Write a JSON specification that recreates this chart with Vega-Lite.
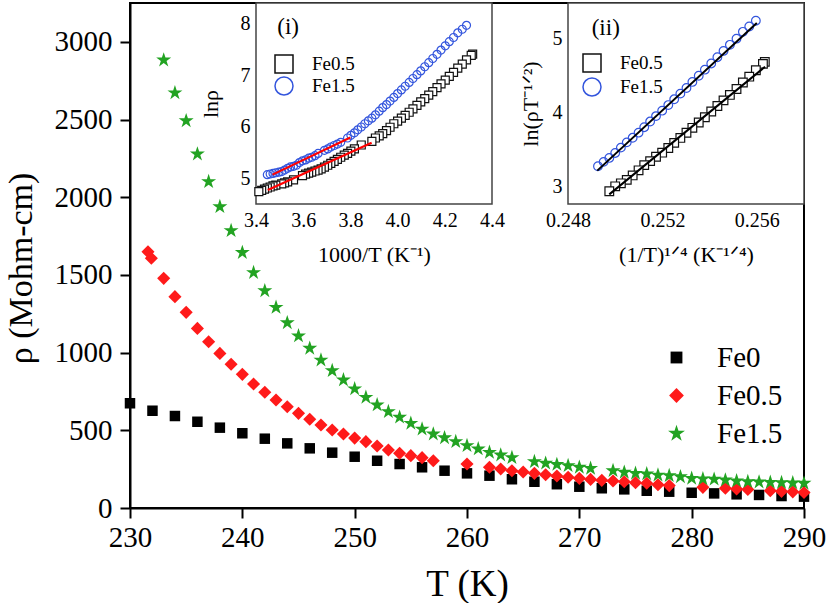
{
  "$schema": "https://vega.github.io/schema/vega-lite/v6.json",
  "width": 674,
  "height": 505,
  "autosize": {"type": "none"},
  "padding": {"left": 130, "top": 3, "right": 23, "bottom": 95},
  "background": "white",
  "config": {
    "view": {"stroke": "black", "strokeWidth": 2},
    "font": "Liberation Serif",
    "axis": {"grid": false, "labelFont": "Liberation Serif", "titleFont": "Liberation Serif", "labelColor": "black", "titleColor": "black", "titleFontWeight": "normal", "labelFlush": false},
    "legend": {"labelFont": "Liberation Serif", "padding": 0, "labelColor": "black"},
    "text": {"font": "Liberation Serif"}
  },
  "datasets": {
    "main": [
      {"s":"Fe0","T":230,"r":674},{"s":"Fe0","T":232,"r":626},{"s":"Fe0","T":234,"r":592},{"s":"Fe0","T":236,"r":555},{"s":"Fe0","T":238,"r":517},{"s":"Fe0","T":240,"r":481},{"s":"Fe0","T":242,"r":446},{"s":"Fe0","T":244,"r":416},{"s":"Fe0","T":246,"r":384},{"s":"Fe0","T":248,"r":356},{"s":"Fe0","T":250,"r":330},{"s":"Fe0","T":252,"r":304},{"s":"Fe0","T":254,"r":283},{"s":"Fe0","T":256,"r":262},{"s":"Fe0","T":258,"r":240},{"s":"Fe0","T":260,"r":223},{"s":"Fe0","T":262,"r":208},{"s":"Fe0","T":264,"r":185},{"s":"Fe0","T":266,"r":169},{"s":"Fe0","T":268,"r":153},{"s":"Fe0","T":270,"r":137},{"s":"Fe0","T":272,"r":127},{"s":"Fe0","T":274,"r":120},{"s":"Fe0","T":276,"r":111},{"s":"Fe0","T":278,"r":105},{"s":"Fe0","T":280,"r":98},{"s":"Fe0","T":282,"r":94},{"s":"Fe0","T":284,"r":88},{"s":"Fe0","T":286,"r":84},{"s":"Fe0","T":288,"r":77},{"s":"Fe0","T":290,"r":73},
      {"s":"Fe0.5","T":231.6,"r":1649},{"s":"Fe0.5","T":231.9,"r":1607},{"s":"Fe0.5","T":233,"r":1478},{"s":"Fe0.5","T":234,"r":1360},{"s":"Fe0.5","T":235,"r":1259},{"s":"Fe0.5","T":236,"r":1156},{"s":"Fe0.5","T":237,"r":1070},{"s":"Fe0.5","T":238,"r":995},{"s":"Fe0.5","T":239,"r":925},{"s":"Fe0.5","T":240,"r":860},{"s":"Fe0.5","T":241,"r":798},{"s":"Fe0.5","T":242,"r":745},{"s":"Fe0.5","T":243,"r":695},{"s":"Fe0.5","T":244,"r":652},{"s":"Fe0.5","T":245,"r":609},{"s":"Fe0.5","T":246,"r":571},{"s":"Fe0.5","T":247,"r":534},{"s":"Fe0.5","T":248,"r":502},{"s":"Fe0.5","T":249,"r":476},{"s":"Fe0.5","T":250,"r":450},{"s":"Fe0.5","T":251,"r":427},{"s":"Fe0.5","T":252,"r":399},{"s":"Fe0.5","T":253,"r":373},{"s":"Fe0.5","T":254,"r":352},{"s":"Fe0.5","T":255,"r":337},{"s":"Fe0.5","T":256,"r":324},{"s":"Fe0.5","T":257,"r":304},{"s":"Fe0.5","T":260,"r":283},{"s":"Fe0.5","T":262,"r":262},{"s":"Fe0.5","T":263,"r":251},{"s":"Fe0.5","T":264,"r":240},{"s":"Fe0.5","T":265,"r":232},{"s":"Fe0.5","T":266,"r":223},{"s":"Fe0.5","T":267,"r":214},{"s":"Fe0.5","T":268,"r":206},{"s":"Fe0.5","T":269,"r":198},{"s":"Fe0.5","T":270,"r":191},{"s":"Fe0.5","T":271,"r":184},{"s":"Fe0.5","T":272,"r":178},{"s":"Fe0.5","T":273,"r":174},{"s":"Fe0.5","T":274,"r":169},{"s":"Fe0.5","T":275,"r":163},{"s":"Fe0.5","T":276,"r":159},{"s":"Fe0.5","T":277,"r":150},{"s":"Fe0.5","T":278,"r":144},{"s":"Fe0.5","T":281,"r":133},{"s":"Fe0.5","T":283,"r":127},{"s":"Fe0.5","T":284,"r":122},{"s":"Fe0.5","T":285,"r":119},{"s":"Fe0.5","T":287,"r":111},{"s":"Fe0.5","T":288,"r":107},{"s":"Fe0.5","T":289,"r":104},{"s":"Fe0.5","T":290,"r":100},
      {"s":"Fe1.5","T":233,"r":2883},{"s":"Fe1.5","T":234,"r":2672},{"s":"Fe1.5","T":235,"r":2492},{"s":"Fe1.5","T":236,"r":2278},{"s":"Fe1.5","T":237,"r":2100},{"s":"Fe1.5","T":238,"r":1939},{"s":"Fe1.5","T":239,"r":1785},{"s":"Fe1.5","T":240,"r":1644},{"s":"Fe1.5","T":241,"r":1515},{"s":"Fe1.5","T":242,"r":1398},{"s":"Fe1.5","T":243,"r":1291},{"s":"Fe1.5","T":244,"r":1192},{"s":"Fe1.5","T":245,"r":1107},{"s":"Fe1.5","T":246,"r":1028},{"s":"Fe1.5","T":247,"r":952},{"s":"Fe1.5","T":248,"r":884},{"s":"Fe1.5","T":249,"r":824},{"s":"Fe1.5","T":250,"r":767},{"s":"Fe1.5","T":251,"r":712},{"s":"Fe1.5","T":252,"r":663},{"s":"Fe1.5","T":253,"r":620},{"s":"Fe1.5","T":254,"r":584},{"s":"Fe1.5","T":255,"r":545},{"s":"Fe1.5","T":256,"r":508},{"s":"Fe1.5","T":257,"r":476},{"s":"Fe1.5","T":258,"r":452},{"s":"Fe1.5","T":259,"r":427},{"s":"Fe1.5","T":260,"r":401},{"s":"Fe1.5","T":261,"r":380},{"s":"Fe1.5","T":262,"r":358},{"s":"Fe1.5","T":263,"r":341},{"s":"Fe1.5","T":264,"r":324},{"s":"Fe1.5","T":266,"r":298},{"s":"Fe1.5","T":267,"r":288},{"s":"Fe1.5","T":268,"r":280},{"s":"Fe1.5","T":269,"r":272},{"s":"Fe1.5","T":270,"r":262},{"s":"Fe1.5","T":271,"r":255},{"s":"Fe1.5","T":273,"r":240},{"s":"Fe1.5","T":274,"r":230},{"s":"Fe1.5","T":275,"r":223},{"s":"Fe1.5","T":276,"r":219},{"s":"Fe1.5","T":277,"r":212},{"s":"Fe1.5","T":278,"r":208},{"s":"Fe1.5","T":279,"r":201},{"s":"Fe1.5","T":280,"r":191},{"s":"Fe1.5","T":281,"r":187},{"s":"Fe1.5","T":282,"r":185},{"s":"Fe1.5","T":283,"r":180},{"s":"Fe1.5","T":284,"r":174},{"s":"Fe1.5","T":285,"r":169},{"s":"Fe1.5","T":286,"r":167},{"s":"Fe1.5","T":287,"r":165},{"s":"Fe1.5","T":288,"r":163},{"s":"Fe1.5","T":289,"r":161},{"s":"Fe1.5","T":290,"r":159}
    ],
    "ins1": [
      {"s":"Fe0.5","x":4.318,"y":7.408},{"s":"Fe0.5","x":4.312,"y":7.382},{"s":"Fe0.5","x":4.292,"y":7.298},{"s":"Fe0.5","x":4.274,"y":7.215},{"s":"Fe0.5","x":4.255,"y":7.138},{"s":"Fe0.5","x":4.237,"y":7.053},{"s":"Fe0.5","x":4.219,"y":6.975},{"s":"Fe0.5","x":4.202,"y":6.903},{"s":"Fe0.5","x":4.184,"y":6.83},{"s":"Fe0.5","x":4.167,"y":6.757},{"s":"Fe0.5","x":4.149,"y":6.682},{"s":"Fe0.5","x":4.132,"y":6.613},{"s":"Fe0.5","x":4.115,"y":6.544},{"s":"Fe0.5","x":4.098,"y":6.48},{"s":"Fe0.5","x":4.082,"y":6.412},{"s":"Fe0.5","x":4.065,"y":6.347},{"s":"Fe0.5","x":4.049,"y":6.28},{"s":"Fe0.5","x":4.032,"y":6.219},{"s":"Fe0.5","x":4.016,"y":6.166},{"s":"Fe0.5","x":4.0,"y":6.109},{"s":"Fe0.5","x":3.984,"y":6.057},{"s":"Fe0.5","x":3.968,"y":5.989},{"s":"Fe0.5","x":3.953,"y":5.922},{"s":"Fe0.5","x":3.937,"y":5.864},{"s":"Fe0.5","x":3.922,"y":5.82},{"s":"Fe0.5","x":3.906,"y":5.781},{"s":"Fe0.5","x":3.891,"y":5.717},{"s":"Fe0.5","x":3.846,"y":5.645},{"s":"Fe0.5","x":3.817,"y":5.568},{"s":"Fe0.5","x":3.802,"y":5.525},{"s":"Fe0.5","x":3.788,"y":5.481},{"s":"Fe0.5","x":3.774,"y":5.447},{"s":"Fe0.5","x":3.759,"y":5.407},{"s":"Fe0.5","x":3.745,"y":5.366},{"s":"Fe0.5","x":3.731,"y":5.328},{"s":"Fe0.5","x":3.717,"y":5.288},{"s":"Fe0.5","x":3.704,"y":5.252},{"s":"Fe0.5","x":3.69,"y":5.215},{"s":"Fe0.5","x":3.676,"y":5.182},{"s":"Fe0.5","x":3.663,"y":5.159},{"s":"Fe0.5","x":3.65,"y":5.14},{"s":"Fe0.5","x":3.636,"y":5.12},{"s":"Fe0.5","x":3.623,"y":5.1},{"s":"Fe0.5","x":3.61,"y":5.08},{"s":"Fe0.5","x":3.597,"y":5.05},{"s":"Fe0.5","x":3.559,"y":4.97},{"s":"Fe0.5","x":3.534,"y":4.93},{"s":"Fe0.5","x":3.521,"y":4.91},{"s":"Fe0.5","x":3.509,"y":4.89},{"s":"Fe0.5","x":3.484,"y":4.865},{"s":"Fe0.5","x":3.472,"y":4.85},{"s":"Fe0.5","x":3.46,"y":4.83},{"s":"Fe0.5","x":3.448,"y":4.81},{"s":"Fe0.5","x":3.436,"y":4.79},{"s":"Fe0.5","x":3.424,"y":4.765},{"s":"Fe0.5","x":3.412,"y":4.74},
      {"s":"Fe1.5","x":4.292,"y":7.967},{"s":"Fe1.5","x":4.274,"y":7.891},{"s":"Fe1.5","x":4.255,"y":7.821},{"s":"Fe1.5","x":4.237,"y":7.731},{"s":"Fe1.5","x":4.219,"y":7.65},{"s":"Fe1.5","x":4.202,"y":7.57},{"s":"Fe1.5","x":4.184,"y":7.487},{"s":"Fe1.5","x":4.167,"y":7.405},{"s":"Fe1.5","x":4.149,"y":7.323},{"s":"Fe1.5","x":4.132,"y":7.243},{"s":"Fe1.5","x":4.115,"y":7.163},{"s":"Fe1.5","x":4.098,"y":7.083},{"s":"Fe1.5","x":4.082,"y":7.009},{"s":"Fe1.5","x":4.065,"y":6.935},{"s":"Fe1.5","x":4.049,"y":6.859},{"s":"Fe1.5","x":4.032,"y":6.785},{"s":"Fe1.5","x":4.016,"y":6.714},{"s":"Fe1.5","x":4.0,"y":6.643},{"s":"Fe1.5","x":3.984,"y":6.568},{"s":"Fe1.5","x":3.968,"y":6.497},{"s":"Fe1.5","x":3.953,"y":6.43},{"s":"Fe1.5","x":3.937,"y":6.37},{"s":"Fe1.5","x":3.922,"y":6.301},{"s":"Fe1.5","x":3.906,"y":6.231},{"s":"Fe1.5","x":3.891,"y":6.166},{"s":"Fe1.5","x":3.876,"y":6.114},{"s":"Fe1.5","x":3.861,"y":6.057},{"s":"Fe1.5","x":3.846,"y":5.994},{"s":"Fe1.5","x":3.831,"y":5.94},{"s":"Fe1.5","x":3.817,"y":5.881},{"s":"Fe1.5","x":3.802,"y":5.832},{"s":"Fe1.5","x":3.788,"y":5.781},{"s":"Fe1.5","x":3.759,"y":5.697},{"s":"Fe1.5","x":3.745,"y":5.663},{"s":"Fe1.5","x":3.731,"y":5.635},{"s":"Fe1.5","x":3.717,"y":5.606},{"s":"Fe1.5","x":3.704,"y":5.568},{"s":"Fe1.5","x":3.69,"y":5.541},{"s":"Fe1.5","x":3.663,"y":5.481},{"s":"Fe1.5","x":3.65,"y":5.438},{"s":"Fe1.5","x":3.636,"y":5.407},{"s":"Fe1.5","x":3.623,"y":5.389},{"s":"Fe1.5","x":3.61,"y":5.356},{"s":"Fe1.5","x":3.597,"y":5.337},{"s":"Fe1.5","x":3.584,"y":5.303},{"s":"Fe1.5","x":3.571,"y":5.252},{"s":"Fe1.5","x":3.559,"y":5.231},{"s":"Fe1.5","x":3.546,"y":5.22},{"s":"Fe1.5","x":3.534,"y":5.193},{"s":"Fe1.5","x":3.521,"y":5.159},{"s":"Fe1.5","x":3.509,"y":5.13},{"s":"Fe1.5","x":3.497,"y":5.118},{"s":"Fe1.5","x":3.484,"y":5.106},{"s":"Fe1.5","x":3.472,"y":5.094},{"s":"Fe1.5","x":3.46,"y":5.082},{"s":"Fe1.5","x":3.448,"y":5.069}
    ],
    "fit1": [
      {"s":"Fe0.5","x":3.45,"y":4.77},{"s":"Fe0.5","x":3.89,"y":5.69},
      {"s":"Fe1.5","x":3.47,"y":5.07},{"s":"Fe1.5","x":3.8,"y":5.79}
    ],
    "ins2": [
      {"s":"Fe0.5","x":0.25634,"y":4.686},{"s":"Fe0.5","x":0.25626,"y":4.659},{"s":"Fe0.5","x":0.25596,"y":4.573},{"s":"Fe0.5","x":0.25568,"y":4.487},{"s":"Fe0.5","x":0.25541,"y":4.408},{"s":"Fe0.5","x":0.25514,"y":4.321},{"s":"Fe0.5","x":0.25486,"y":4.241},{"s":"Fe0.5","x":0.25459,"y":4.167},{"s":"Fe0.5","x":0.25433,"y":4.092},{"s":"Fe0.5","x":0.25407,"y":4.017},{"s":"Fe0.5","x":0.2538,"y":3.94},{"s":"Fe0.5","x":0.25354,"y":3.869},{"s":"Fe0.5","x":0.25327,"y":3.797},{"s":"Fe0.5","x":0.25302,"y":3.731},{"s":"Fe0.5","x":0.25276,"y":3.661},{"s":"Fe0.5","x":0.2525,"y":3.594},{"s":"Fe0.5","x":0.25225,"y":3.525},{"s":"Fe0.5","x":0.25199,"y":3.462},{"s":"Fe0.5","x":0.25173,"y":3.407},{"s":"Fe0.5","x":0.25148,"y":3.348},{"s":"Fe0.5","x":0.25123,"y":3.294},{"s":"Fe0.5","x":0.25099,"y":3.224},{"s":"Fe0.5","x":0.25074,"y":3.155},{"s":"Fe0.5","x":0.25049,"y":3.095},{"s":"Fe0.5","x":0.25024,"y":3.049},{"s":"Fe0.5","x":0.25,"y":3.008},{"s":"Fe0.5","x":0.24975,"y":2.942},
      {"s":"Fe1.5","x":0.25596,"y":5.241},{"s":"Fe1.5","x":0.25568,"y":5.163},{"s":"Fe1.5","x":0.25541,"y":5.091},{"s":"Fe1.5","x":0.25514,"y":4.999},{"s":"Fe1.5","x":0.25486,"y":4.916},{"s":"Fe1.5","x":0.25459,"y":4.834},{"s":"Fe1.5","x":0.25433,"y":4.749},{"s":"Fe1.5","x":0.25407,"y":4.665},{"s":"Fe1.5","x":0.2538,"y":4.581},{"s":"Fe1.5","x":0.25354,"y":4.499},{"s":"Fe1.5","x":0.25327,"y":4.416},{"s":"Fe1.5","x":0.25302,"y":4.334},{"s":"Fe1.5","x":0.25276,"y":4.258},{"s":"Fe1.5","x":0.2525,"y":4.182},{"s":"Fe1.5","x":0.25225,"y":4.104},{"s":"Fe1.5","x":0.25199,"y":4.028},{"s":"Fe1.5","x":0.25173,"y":3.955},{"s":"Fe1.5","x":0.25148,"y":3.882},{"s":"Fe1.5","x":0.25123,"y":3.805},{"s":"Fe1.5","x":0.25099,"y":3.732},{"s":"Fe1.5","x":0.25074,"y":3.663},{"s":"Fe1.5","x":0.25049,"y":3.601},{"s":"Fe1.5","x":0.25024,"y":3.53},{"s":"Fe1.5","x":0.25,"y":3.458},{"s":"Fe1.5","x":0.24975,"y":3.391},{"s":"Fe1.5","x":0.24951,"y":3.338},{"s":"Fe1.5","x":0.24927,"y":3.279}
    ],
    "fit2": [
      {"s":"Fe0.5","x":0.24975,"y":2.9},{"s":"Fe0.5","x":0.25635,"y":4.62},
      {"s":"Fe1.5","x":0.24924,"y":3.22},{"s":"Fe1.5","x":0.256,"y":5.21}
    ]
  },
  "resolve": {"scale": {"x": "independent", "y": "independent", "color": "independent", "shape": "independent", "fill": "independent", "stroke": "independent"}},
  "layer": [
    {
      "data": {"name": "main"},
      "mark": {"type": "point", "filled": true, "size": 110, "opacity": 1},
      "encoding": {
        "x": {"field": "T", "type": "quantitative", "scale": {"domain": [230, 290], "nice": false, "zero": false},
          "axis": {"orient": "bottom", "values": [230, 240, 250, 260, 270, 280, 290], "format": "d", "title": "T (K)", "labelFont": "Liberation Serif", "titleFont": "Liberation Serif", "labelFontSize": 29, "titleFontSize": 37, "domainColor": "black", "domainWidth": 2, "tickColor": "black", "tickWidth": 2, "tickSize": 10, "labelPadding": 5, "titlePadding": 14}},
        "y": {"field": "r", "type": "quantitative", "scale": {"domain": [0, 3250], "nice": false},
          "axis": {"orient": "left", "values": [0, 500, 1000, 1500, 2000, 2500, 3000], "format": "d", "title": "ρ (Mohm-cm)", "labelFont": "Liberation Serif", "titleFont": "Liberation Serif", "labelFontSize": 29, "titleFontSize": 34, "titleY": 265, "domainColor": "black", "domainWidth": 2, "tickColor": "black", "tickWidth": 2, "tickSize": 10, "labelPadding": 8, "titlePadding": 16}},
        "color": {"field": "s", "type": "nominal", "scale": {"domain": ["Fe0", "Fe0.5", "Fe1.5"], "range": ["#000000", "#ff1a1a", "#22a322"]},
          "legend": {"title": null, "orient": "none", "legendX": 532, "legendY": 340, "labelFont": "Liberation Serif", "labelFontSize": 29, "symbolSize": 140, "labelOffset": 26, "rowPadding": 8, "symbolStrokeWidth": 0}},
        "shape": {"field": "s", "type": "nominal", "scale": {"domain": ["Fe0", "Fe0.5", "Fe1.5"], "range": ["square", "M0,-1.25L1.25,0L0,1.25L-1.25,0Z", "M0,-1.5L0.337,-0.464L1.427,-0.464L0.545,0.177L0.882,1.214L0,0.573L-0.882,1.214L-0.545,0.177L-1.427,-0.464L-0.337,-0.464Z"]},
          "legend": {"title": null, "orient": "none", "legendX": 532, "legendY": 340, "labelFont": "Liberation Serif", "labelFontSize": 29, "symbolSize": 140, "labelOffset": 26, "rowPadding": 8, "symbolStrokeWidth": 0}}
      }
    },
    {
      "encoding": {
        "x": {"field": "x", "type": "quantitative", "scale": {"domain": [3.4, 4.4], "range": [126, 362], "nice": false, "zero": false},
          "axis": {"orient": "bottom", "offset": -304, "values": [3.4, 3.6, 3.8, 4.0, 4.2, 4.4], "format": ".1f", "title": "1000/T (K⁻¹)", "labelFont": "Liberation Serif", "titleFont": "Liberation Serif", "labelFontSize": 20, "titleFontSize": 22, "domain": false, "ticks": false, "labelPadding": 6, "titlePadding": 14}},
        "y": {"field": "y", "type": "quantitative", "scale": {"domain": [4.5, 8.4], "range": [201, 0], "nice": false, "zero": false},
          "axis": {"orient": "left", "offset": -126, "values": [5, 6, 7, 8], "format": "d", "title": "lnρ", "labelFont": "Liberation Serif", "titleFont": "Liberation Serif", "labelFontSize": 20, "titleFontSize": 22, "domain": false, "ticks": false, "labelPadding": 6, "titlePadding": 18}}
      },
      "layer": [
        {
          "data": {"values": [{"x": 3.4, "x2": 4.4, "y": 4.5, "y2": 8.4}]},
          "mark": {"type": "rect", "fill": "white", "stroke": "#444", "strokeWidth": 1.5},
          "encoding": {"x2": {"field": "x2"}, "y2": {"field": "y2"}}
        },
        {
          "data": {"name": "ins1"},
          "mark": {"type": "point", "size": 64, "strokeWidth": 1.2, "opacity": 1},
          "encoding": {
            "stroke": {"field": "s", "type": "nominal", "scale": {"domain": ["Fe0.5", "Fe1.5"], "range": ["#111111", "#3355dd"]},
              "legend": {"title": null, "orient": "none", "legendX": 144, "legendY": 51, "labelFont": "Liberation Serif", "labelFontSize": 19, "symbolSize": 324, "labelOffset": 18, "rowPadding": -2, "symbolStrokeWidth": 1.5}},
            "fill": {"field": "s", "type": "nominal", "scale": {"domain": ["Fe0.5", "Fe1.5"], "range": ["white", "transparent"]},
              "legend": {"title": null, "orient": "none", "legendX": 144, "legendY": 51, "labelFont": "Liberation Serif", "labelFontSize": 19, "symbolSize": 324, "labelOffset": 18, "rowPadding": -2, "symbolStrokeWidth": 1.5}},
            "shape": {"field": "s", "type": "nominal", "scale": {"domain": ["Fe0.5", "Fe1.5"], "range": ["square", "circle"]},
              "legend": {"title": null, "orient": "none", "legendX": 144, "legendY": 51, "labelFont": "Liberation Serif", "labelFontSize": 19, "symbolSize": 324, "labelOffset": 18, "rowPadding": -2, "symbolStrokeWidth": 1.5}}
          }
        },
        {
          "data": {"name": "fit1"},
          "mark": {"type": "line", "color": "#ff0000", "strokeWidth": 2.2},
          "encoding": {"detail": {"field": "s", "type": "nominal"}}
        },
        {
          "data": {"values": [{"x": 3.536, "y": 7.93, "t": "(i)"}]},
          "mark": {"type": "text", "fontSize": 23, "color": "black", "font": "Liberation Serif"},
          "encoding": {"text": {"field": "t"}}
        }
      ]
    },
    {
      "encoding": {
        "x": {"field": "x", "type": "quantitative", "scale": {"domain": [0.248, 0.258], "range": [438, 674], "nice": false, "zero": false},
          "axis": {"orient": "bottom", "offset": -304, "values": [0.248, 0.252, 0.256], "format": ".3f", "title": "(1/T)¹ᐟ⁴ (K⁻¹ᐟ⁴)", "labelFont": "Liberation Serif", "titleFont": "Liberation Serif", "labelFontSize": 20, "titleFontSize": 22, "domain": false, "ticks": false, "labelPadding": 6, "titlePadding": 14}},
        "y": {"field": "y", "type": "quantitative", "scale": {"domain": [2.77, 5.48], "range": [201, 0], "nice": false, "zero": false},
          "axis": {"orient": "left", "offset": -438, "values": [3, 4, 5], "format": "d", "title": "ln(ρT⁻¹ᐟ²)", "labelFont": "Liberation Serif", "titleFont": "Liberation Serif", "labelFontSize": 20, "titleFontSize": 22, "domain": false, "ticks": false, "labelPadding": 6, "titlePadding": 10}}
      },
      "layer": [
        {
          "data": {"values": [{"x": 0.248, "x2": 0.258, "y": 2.77, "y2": 5.48}]},
          "mark": {"type": "rect", "fill": "white", "stroke": "#444", "strokeWidth": 1.5},
          "encoding": {"x2": {"field": "x2"}, "y2": {"field": "y2"}}
        },
        {
          "data": {"name": "ins2"},
          "mark": {"type": "point", "size": 75, "strokeWidth": 1.2, "opacity": 1},
          "encoding": {
            "stroke": {"field": "s", "type": "nominal", "scale": {"domain": ["Fe0.5", "Fe1.5"], "range": ["#111111", "#3355dd"]},
              "legend": {"title": null, "orient": "none", "legendX": 452, "legendY": 50, "labelFont": "Liberation Serif", "labelFontSize": 19, "symbolSize": 324, "labelOffset": 18, "rowPadding": 0, "symbolStrokeWidth": 1.5}},
            "fill": {"field": "s", "type": "nominal", "scale": {"domain": ["Fe0.5", "Fe1.5"], "range": ["white", "transparent"]},
              "legend": {"title": null, "orient": "none", "legendX": 452, "legendY": 50, "labelFont": "Liberation Serif", "labelFontSize": 19, "symbolSize": 324, "labelOffset": 18, "rowPadding": 0, "symbolStrokeWidth": 1.5}},
            "shape": {"field": "s", "type": "nominal", "scale": {"domain": ["Fe0.5", "Fe1.5"], "range": ["square", "circle"]},
              "legend": {"title": null, "orient": "none", "legendX": 452, "legendY": 50, "labelFont": "Liberation Serif", "labelFontSize": 19, "symbolSize": 324, "labelOffset": 18, "rowPadding": 0, "symbolStrokeWidth": 1.5}}
          }
        },
        {
          "data": {"name": "fit2"},
          "mark": {"type": "line", "color": "black", "strokeWidth": 2},
          "encoding": {"detail": {"field": "s", "type": "nominal"}}
        },
        {
          "data": {"values": [{"x": 0.2496, "y": 5.14, "t": "(ii)"}]},
          "mark": {"type": "text", "fontSize": 23, "color": "black", "font": "Liberation Serif"},
          "encoding": {"text": {"field": "t"}}
        }
      ]
    }
  ]
}
